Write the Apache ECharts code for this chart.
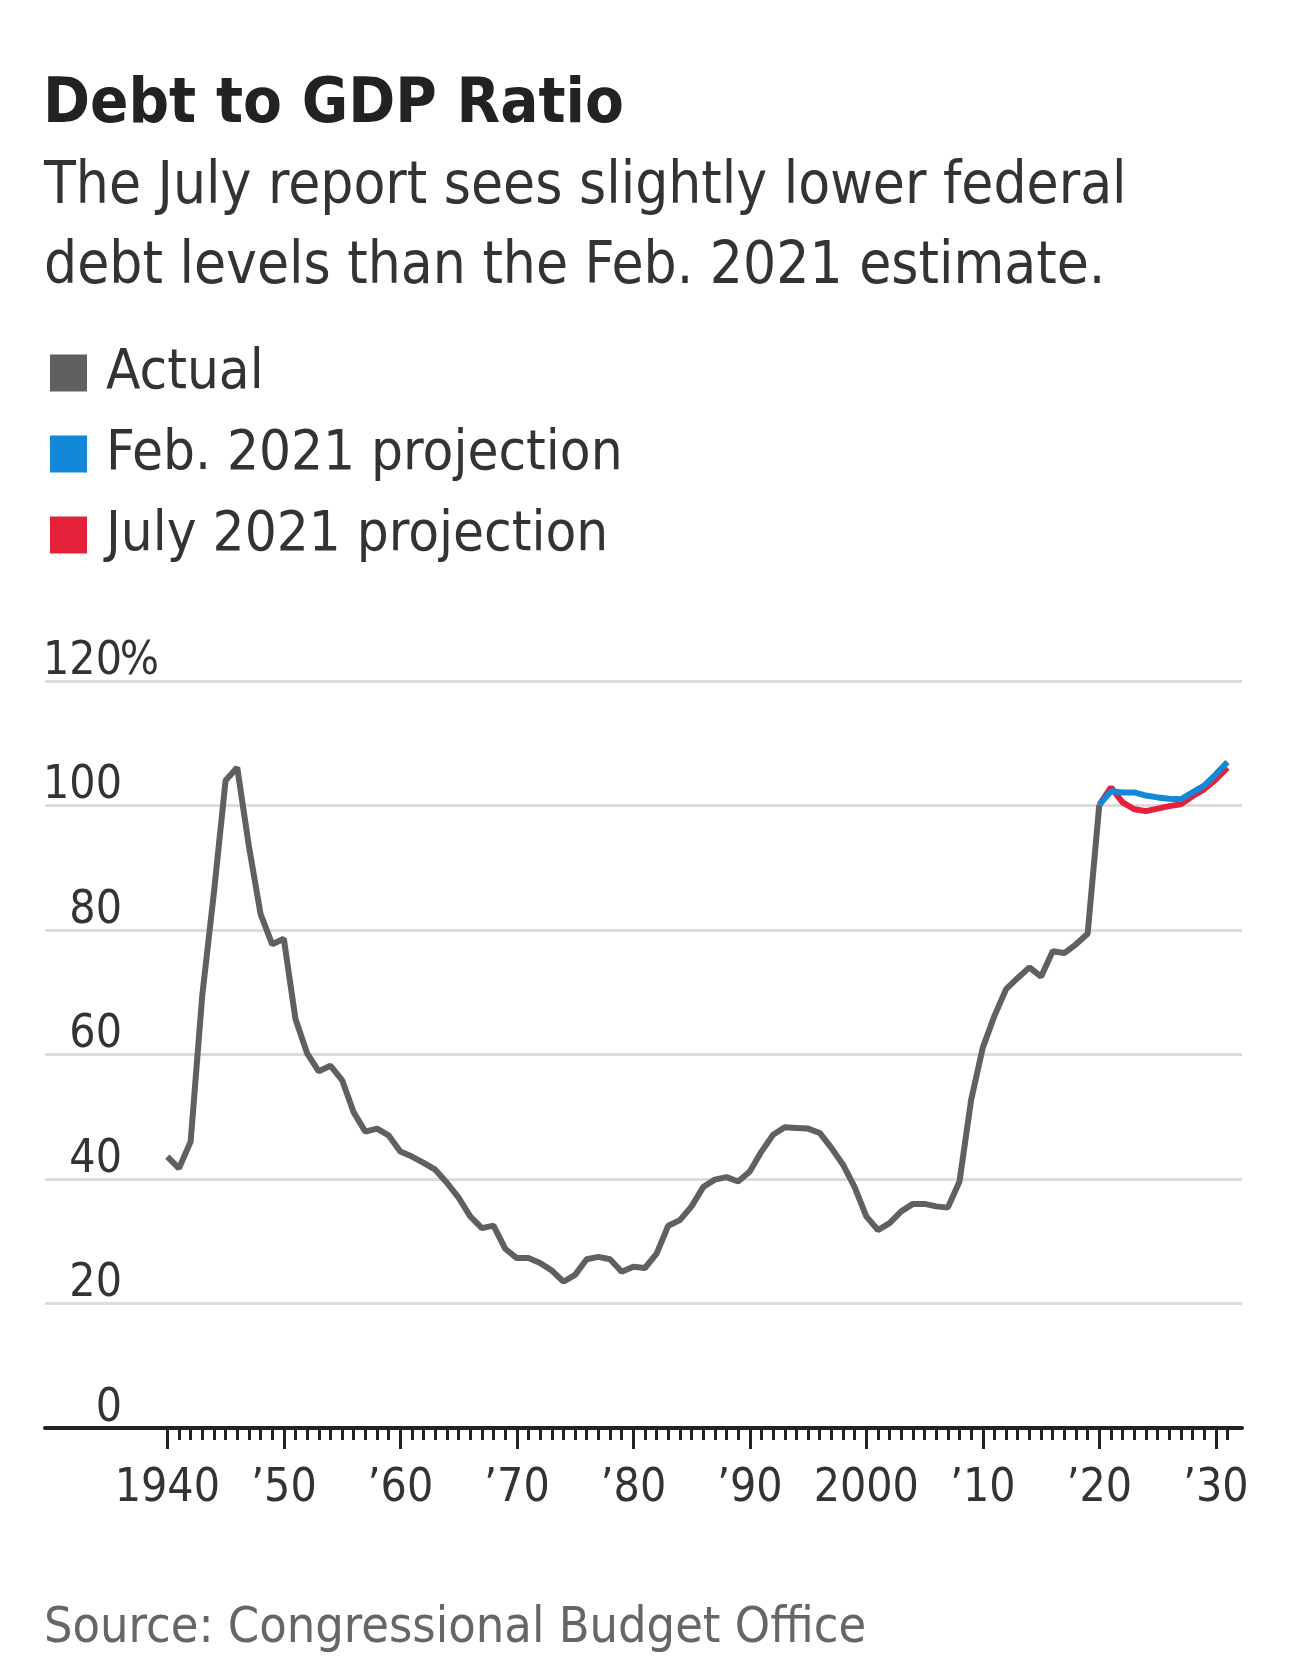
<!DOCTYPE html>
<html>
<head>
<meta charset="utf-8">
<script src="https://cdn.jsdelivr.net/npm/echarts@6/dist/echarts.min.js"></script>
<style>
  html, body { margin: 0; padding: 0; background: #ffffff; }
  #chart { width: 1296px; height: 1668px; }
</style>
</head>
<body>
<div id="chart"></div>
<script>
// ---------- DATA ----------
const titleText = 'Debt to GDP Ratio';
const subtitleText = 'The July report sees slightly lower federal\ndebt levels than the Feb. 2021 estimate.';
const sourceText = 'Source: Congressional Budget Office';

const actualStartYear = 1940;
const actualValues = [
  43.6, 41.7, 46.0, 69.5, 86.0, 104.0, 106.1, 93.5, 82.6, 77.7,   // 1940s
  78.6, 65.7, 60.2, 57.3, 58.2, 55.9, 50.7, 47.6, 48.1, 47.0,     // 1950s
  44.4, 43.6, 42.6, 41.5, 39.4, 37.0, 34.0, 32.1, 32.5, 28.8,     // 1960s
  27.3, 27.3, 26.5, 25.3, 23.5, 24.6, 27.1, 27.5, 27.1, 25.1,     // 1970s
  25.9, 25.7, 28.0, 32.5, 33.4, 35.6, 38.7, 39.9, 40.3, 39.6,     // 1980s
  41.2, 44.4, 47.1, 48.3, 48.2, 48.1, 47.4, 45.0, 42.3, 38.7,     // 1990s
  34.0, 31.8, 32.9, 34.8, 36.0, 36.0, 35.6, 35.4, 39.6, 52.7,     // 2000s
  61.1, 66.2, 70.5, 72.3, 74.0, 72.5, 76.6, 76.3, 77.7, 79.4,     // 2010s
  100.1                                                            // 2020
];
const projYears = [2020, 2021, 2022, 2023, 2024, 2025, 2026, 2027, 2028, 2029, 2030, 2031];
const febValues  = [100.1, 102.3, 102.1, 102.1, 101.6, 101.3, 101.1, 101.0, 102.1, 103.2, 105.0, 107.0];
const julyValues = [100.1, 102.9, 100.5, 99.4, 99.1, 99.5, 99.9, 100.2, 101.5, 102.6, 104.2, 106.1];

const seriesNames = ['Actual', 'Feb. 2021 projection', 'July 2021 projection'];
const seriesColors = ['#606060', '#1388d8', '#e5213a'];

const majorTickYears = [1940, 1950, 1960, 1970, 1980, 1990, 2000, 2010, 2020, 2030];
const majorTickLabels = ['1940', '\u201950', '\u201960', '\u201970', '\u201980', '\u201990', '2000', '\u201910', '\u201920', '\u201930'];
const minorTickYears = [];
for (let y = 1940; y <= 2031; y++) minorTickYears.push(y);

// ---------- CHART ----------
const FONT = "'DejaVu Sans Condensed', 'Liberation Sans Narrow', 'Noto Sans', sans-serif";

const actualData = actualValues.map((v, i) => [actualStartYear + i, v]);
const febData = projYears.map((y, i) => [y, febValues[i]]);
const julyData = projYears.map((y, i) => [y, julyValues[i]]);

const chart = echarts.init(document.getElementById('chart'), null, { renderer: 'canvas' });

const xMin = 1929.5, xMax = 2032.25;

chart.setOption({
  animation: false,
  backgroundColor: '#ffffff',
  textStyle: { fontFamily: FONT },
  title: [
    {
      text: titleText, left: 38, top: 69,
      textStyle: { fontFamily: FONT, fontSize: 63, fontWeight: 'bold', color: '#222222', lineHeight: 63 }
    },
    {
      text: subtitleText, left: 39, top: 143,
      textStyle: { fontFamily: FONT, fontSize: 58, fontWeight: 'normal', color: '#333333', lineHeight: 80 }
    },
    {
      text: sourceText, left: 39, top: 1599,
      textStyle: { fontFamily: FONT, fontSize: 50, fontWeight: 'normal', color: '#666666', lineHeight: 50 }
    }
  ],
  legend: {
    orient: 'vertical', left: 45, top: 340,
    icon: 'rect', itemWidth: 37, itemHeight: 37, itemGap: 25,
    data: seriesNames,
    selectedMode: false,
    textStyle: { fontFamily: FONT, fontSize: 56, color: '#333333', padding: [0, 0, 0, 14] }
  },
  grid: { left: 45, right: 54, top: 681, bottom: 240, containLabel: false },
  xAxis: [
    {
      type: 'value', min: xMin, max: xMax, position: 'bottom',
      axisLine: { show: true, lineStyle: { color: '#222222', width: 4 } },
      axisTick: { show: true, customValues: majorTickYears, length: 21, lineStyle: { color: '#222222', width: 3 } },
      axisLabel: {
        show: true, customValues: majorTickYears, margin: 38,
        fontFamily: FONT, fontSize: 46, color: '#333333',
        formatter: function (v) { const i = majorTickYears.indexOf(Math.round(v)); return i >= 0 ? majorTickLabels[i] : ''; }
      },
      splitLine: { show: false }
    },
    {
      type: 'value', min: xMin, max: xMax, position: 'bottom',
      axisLine: { show: false },
      axisTick: { show: true, customValues: minorTickYears, length: 12, lineStyle: { color: '#222222', width: 3 } },
      axisLabel: { show: false },
      splitLine: { show: false }
    }
  ],
  yAxis: {
    type: 'value', min: 0, max: 120, interval: 20,
    axisLine: { show: false }, axisTick: { show: false },
    splitLine: { show: true, showMinLine: false, lineStyle: { color: '#dcdcdc', width: 3 } },
    axisLabel: {
      inside: true, align: 'right', verticalAlign: 'bottom', margin: 112,
      formatter: function (v) { return v === 120 ? '{n|' + v + '}{p|%}' : '{n|' + v + '}{p| }'; },
      rich: {
        n: { fontFamily: FONT, fontSize: 46, color: '#333333', lineHeight: 38 },
        p: { fontFamily: FONT, fontSize: 46, color: '#333333', lineHeight: 38, width: 35, align: 'left' }
      }
    }
  },
  series: [
    {
      name: seriesNames[0], type: 'line', xAxisIndex: 0, data: actualData,
      color: seriesColors[0], symbol: 'none', lineStyle: { width: 6, color: seriesColors[0] }, z: 3
    },
    {
      name: seriesNames[2], type: 'line', xAxisIndex: 0, data: julyData,
      color: seriesColors[2], symbol: 'none', lineStyle: { width: 6, color: seriesColors[2] }, z: 4
    },
    {
      name: seriesNames[1], type: 'line', xAxisIndex: 0, data: febData,
      color: seriesColors[1], symbol: 'none', lineStyle: { width: 6, color: seriesColors[1] }, z: 5
    }
  ]
});
</script>
</body>
</html>
